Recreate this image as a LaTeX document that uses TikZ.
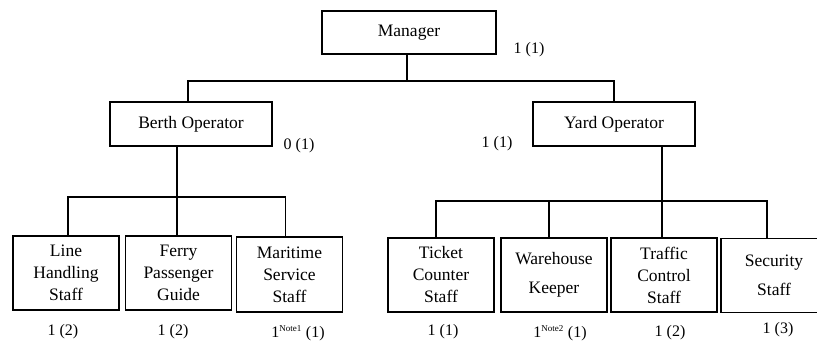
\documentclass[tikz,border=0pt]{standalone}
\usepackage{fontspec}
\setmainfont{Liberation Serif}
\usepackage{tikz}
\usetikzlibrary{positioning, calc}

\begin{document}
\begin{tikzpicture}[
    x=1pt, y=-1pt,
    rolebox/.style={
        draw,
        line width=1.5pt,
        align=center,
        inner sep=2pt,
        font=\fontsize{17.5}{22}\selectfont
    },
    headbox/.style={
        rolebox,
        minimum width=162pt,
        minimum height=44pt
    },
    staffbox/.style={
        rolebox,
        minimum width=106pt,
        minimum height=74pt
    },
    count/.style={
        inner sep=0pt,
        font=\fontsize{16}{19}\selectfont
    },
    link/.style={
        line width=1.4pt
    }
]

\useasboundingbox (0,0) rectangle (817,343);
\clip (0,0) rectangle (817,343);

% ==========================================
% TOP LEVEL
% ==========================================
\node[headbox, minimum width=174pt, minimum height=43pt] (mgr) at (409,32.5) {Manager};
\node[count] (mgrcount) at (529,50) {1 (1)};

\node[headbox] (berth) at (191,124) {Berth Operator};
\node[count] (berthcount) at (299,146) {0 (1)};

\node[headbox] (yard) at (614,124) {Yard Operator};
\node[count] (yardcount) at (497,144) {1 (1)};

% Connecting Lines
\coordinate (topbus) at (407,81);
\draw[link] ([xshift=-2pt]mgr.south) -- (topbus);
\draw[link] ([xshift=-3pt]berth.north) |- (topbus) -| (yard.north);

% ==========================================
% BERTH SIDE
% ==========================================
\node[staffbox] (lhs) at (66,273) {Line\\Handling\\Staff};
\node[staffbox] (fpg) at (178.5,273) {Ferry\\Passenger\\Guide};
\node[staffbox, minimum height=75pt] (mss) at (289.5,274.5) {Maritime\\Service\\Staff};

\node[count] (lhscount) at (63,332) {1 (2)};
\node[count] (fpgcount) at (173,332) {1 (2)};
\node[count] (msscount) at (298,333) {1\textsuperscript{\fontsize{9}{9}\selectfont Note1} (1)};

% Connecting Lines
\coordinate (berthbus) at (177,197);
\draw[link] (berth.south -| berthbus) -- (berthbus) -- (berthbus |- fpg.north);
\draw[link] ([xshift=2pt]lhs.north) |- (berthbus) -| ([xshift=-4pt]mss.north);

% ==========================================
% YARD SIDE
% ==========================================
\node[staffbox] (tcs) at (441,275) {Ticket\\Counter\\Staff};
\node[staffbox] (wk) at (554,275) {Warehouse\\[7pt]Keeper};
\node[staffbox] (trcs) at (664,275) {Traffic\\Control\\Staff};
\node[staffbox] (ss) at (774,275.5) {Security\\[7pt]Staff};

\node[count] (tcscount) at (443,332) {1 (1)};
\node[count] (wkcount) at (560,333) {1\textsuperscript{\fontsize{9}{9}\selectfont Note2} (1)};
\node[count] (trcscount) at (670,333) {1 (2)};
\node[count] (sscount) at (778,330) {1 (3)};

% Connecting Lines
\coordinate (yardbus) at (662,201);
\draw[link] (yard.south -| yardbus) -- (yardbus) -- (yardbus |- trcs.north);
\draw[link] ([xshift=-5pt]tcs.north) |- (yardbus) -| ([xshift=-7pt]ss.north);
\draw[link] ([xshift=-5pt]wk.north) -- ([xshift=-5pt]wk.north |- yardbus);

\end{tikzpicture}
\end{document}
